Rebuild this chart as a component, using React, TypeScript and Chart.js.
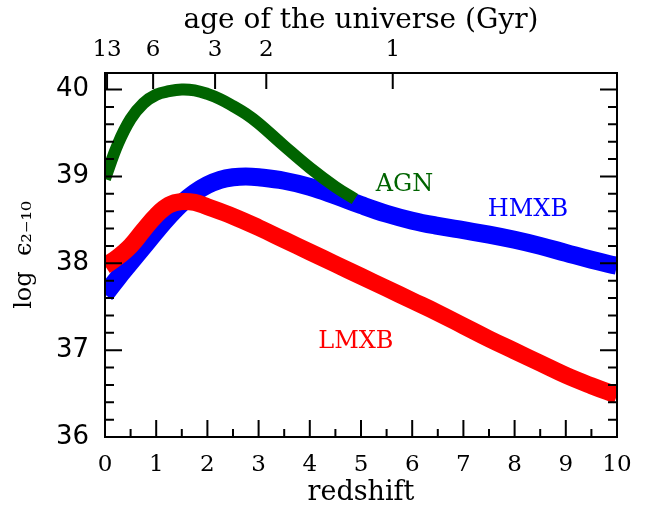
import { useEffect, useRef } from 'react';
import { Chart, registerables } from 'chart.js';

Chart.register(...registerables);

// ---- data ----
const agnRedshift = [0, 0.25, 0.5, 0.75, 1.0, 1.25, 1.5, 1.75, 2.0, 2.25, 2.5, 2.75, 3.0, 3.5, 4.0, 4.5, 4.88];
const agnLogEps = [38.97, 39.37, 39.66, 39.84, 39.94, 39.98, 40.0, 39.99, 39.95, 39.89, 39.81, 39.72, 39.61, 39.35, 39.1, 38.88, 38.74];

const hmxbRedshift = [0, 0.25, 0.5, 0.75, 1.0, 1.25, 1.5, 1.75, 2.0, 2.25, 2.5, 2.75, 3.0, 3.5, 4.0, 4.5, 5.0, 5.5, 6.0, 6.5, 7.0, 7.5, 8.0, 8.5, 9.0, 9.5, 10];
const hmxbLogEps = [37.64, 37.83, 38.01, 38.19, 38.37, 38.54, 38.69, 38.81, 38.9, 38.96, 38.99, 39.0, 38.99, 38.95, 38.88, 38.78, 38.67, 38.57, 38.49, 38.43, 38.38, 38.33, 38.27, 38.2, 38.12, 38.04, 37.97];

const lmxbRedshift = [0, 0.25, 0.5, 0.75, 1.0, 1.25, 1.5, 1.75, 2.0, 2.5, 3.0, 3.5, 4.0, 4.5, 5.0, 5.5, 6.0, 6.5, 7.0, 7.5, 8.0, 8.5, 9.0, 9.5, 10];
const lmxbLogEps = [37.97, 38.07, 38.2, 38.38, 38.55, 38.67, 38.71, 38.7, 38.65, 38.54, 38.41, 38.27, 38.13, 37.99, 37.85, 37.71, 37.57, 37.43, 37.28, 37.13, 36.99, 36.85, 36.71, 36.59, 36.48];

const redshiftTicks = [0, 1, 2, 3, 4, 5, 6, 7, 8, 9, 10];
const logTicks = [36, 37, 38, 39, 40];
const ageLabels = ['13', '6', '3', '2', '1'];
const ageRedshift = [0.04, 0.94, 2.15, 3.15, 5.62];

const seriesNames = ['AGN', 'HMXB', 'LMXB'];
const seriesColors = ['#006400', '#0000ff', '#ff0000'];

export default function App() {
  const ref = useRef<HTMLCanvasElement | null>(null);

  useEffect(() => {
    document.body.style.margin = '0';
    const canvas = ref.current;
    if (!canvas) return;

    const labelSpots = [
      { z: 5.85, v: 38.9 },
      { z: 8.26, v: 38.61 },
      { z: 4.9, v: 37.1 },
    ];

    const framePlugin = {
      id: 'frameTicks',
      afterDatasetsDraw(chart: any) {
        const ctx = chart.ctx as CanvasRenderingContext2D;
        const { left, right, top, bottom } = chart.chartArea;
        const xs = chart.scales.x;
        const ys = chart.scales.y;
        ctx.save();
        // series labels
        ctx.font = '24px "DejaVu Serif"';
        ctx.textAlign = 'center';
        ctx.textBaseline = 'middle';
        seriesNames.forEach((name, i) => {
          ctx.fillStyle = seriesColors[i];
          ctx.fillText(name, xs.getPixelForValue(labelSpots[i].z), ys.getPixelForValue(labelSpots[i].v));
        });
        ctx.strokeStyle = '#000';
        ctx.lineWidth = 2;
        ctx.lineCap = 'butt';
        ctx.beginPath();
        // bottom ticks
        for (let k = 0; k <= 20; k++) {
          const v = k * 0.5;
          const px = xs.getPixelForValue(v);
          const len = k % 2 === 0 ? 17 : 8;
          ctx.moveTo(px, bottom);
          ctx.lineTo(px, bottom - len);
        }
        // left/right ticks
        for (let k = 0; k <= 20; k++) {
          const v = 36 + k * 0.2;
          const py = ys.getPixelForValue(v);
          const len = k % 5 === 0 ? 17 : 9;
          ctx.moveTo(left, py);
          ctx.lineTo(left + len, py);
          ctx.moveTo(right, py);
          ctx.lineTo(right - len, py);
        }
        // top age ticks
        ageRedshift.forEach((z) => {
          const px = xs.getPixelForValue(z);
          ctx.moveTo(px, top);
          ctx.lineTo(px, top + 16);
        });
        ctx.stroke();
        ctx.strokeRect(left, top, right - left, bottom - top);
        ctx.restore();
      },
    };

    const mk = (zs: number[], vs: number[]) => zs.map((z, i) => ({ x: z, y: vs[i] }));

    const lineBase = {
      pointRadius: 0,
      tension: 0.4,
      fill: false,
      clip: 0,
      borderCapStyle: 'butt',
      borderJoinStyle: 'round',
      xAxisID: 'x',
      yAxisID: 'y',
    };

    const chart = new Chart(canvas, {
      type: 'line',
      data: {
        datasets: [
          {
            ...lineBase,
            label: seriesNames[0],
            data: mk(agnRedshift, agnLogEps),
            borderColor: seriesColors[0],
            borderWidth: 12,
          },
          {
            ...lineBase,
            label: seriesNames[2],
            data: mk(lmxbRedshift, lmxbLogEps),
            borderColor: seriesColors[2],
            borderWidth: 17,
          },
          {
            ...lineBase,
            label: seriesNames[1],
            data: mk(hmxbRedshift, hmxbLogEps),
            borderColor: seriesColors[1],
            borderWidth: 18,
          },
        ],
      } as any,
      options: {
        animation: false,
        responsive: false,
        events: [],
        layout: { padding: 0 },
        plugins: { legend: { display: false }, tooltip: { enabled: false } },
        scales: {
          x: {
            type: 'linear',
            position: 'bottom',
            min: 0,
            max: 10,
            afterBuildTicks: (s: any) => {
              s.ticks = redshiftTicks.map((v) => ({ value: v }));
            },
            afterFit: (s: any) => {
              s.height = 69;
            },
            grid: { display: false, drawTicks: false },
            border: { display: false },
            ticks: {
              color: '#000',
              font: { family: 'DejaVu Serif', size: 23 },
              padding: 14,
              maxRotation: 0,
              autoSkip: false,
              callback: (v: any) => String(v),
            },
            title: {
              display: true,
              text: 'redshift',
              color: '#000',
              font: { family: 'DejaVu Serif', size: 27, lineHeight: 1 },
              padding: { top: 0, bottom: 0 },
            },
          },
          xTop: {
            type: 'linear',
            position: 'top',
            min: 0,
            max: 10,
            afterBuildTicks: (s: any) => {
              s.ticks = ageRedshift.map((v) => ({ value: v }));
            },
            afterFit: (s: any) => {
              s.height = 73;
            },
            grid: { display: false, drawTicks: false },
            border: { display: false },
            ticks: {
              color: '#000',
              font: { family: 'DejaVu Serif', size: 23 },
              padding: 9,
              maxRotation: 0,
              autoSkip: false,
              callback: (_v: any, i: number) => ageLabels[i],
            },
            title: {
              display: true,
              text: 'age of the universe (Gyr)',
              color: '#000',
              font: { family: 'DejaVu Serif', size: 28 },
              padding: { top: 4, bottom: 0 },
            },
          },
          y: {
            type: 'linear',
            position: 'left',
            min: 36,
            max: 40.19,
            afterBuildTicks: (s: any) => {
              s.ticks = logTicks.map((v) => ({ value: v }));
            },
            afterFit: (s: any) => {
              s.width = 105;
            },
            grid: { display: false, drawTicks: false },
            border: { display: false },
            ticks: {
              color: '#000',
              font: { family: 'DejaVu Sans', size: 26 },
              padding: 16,
              autoSkip: false,
              callback: (v: any) => String(v),
            },
            title: {
              display: true,
              text: 'log  ϵ₂₋₁₀',
              color: '#000',
              font: { family: 'DejaVu Serif', size: 24 },
              padding: { top: 10, bottom: 0 },
            },
          },
          yRight: {
            type: 'linear',
            position: 'right',
            min: 36,
            max: 40.19,
            grid: { display: false, drawTicks: false },
            border: { display: false },
            ticks: { display: false },
            afterFit: (s: any) => {
              s.width = 30;
            },
          },
        },
      } as any,
      plugins: [framePlugin],
    });

    return () => chart.destroy();
  }, []);

  return (
    <div style={{ position: 'absolute', left: 0, top: 0, width: 647, height: 506 }}>
      <canvas ref={ref} width={647} height={506} style={{ display: 'block', width: 647, height: 506 }} />
    </div>
  );
}
